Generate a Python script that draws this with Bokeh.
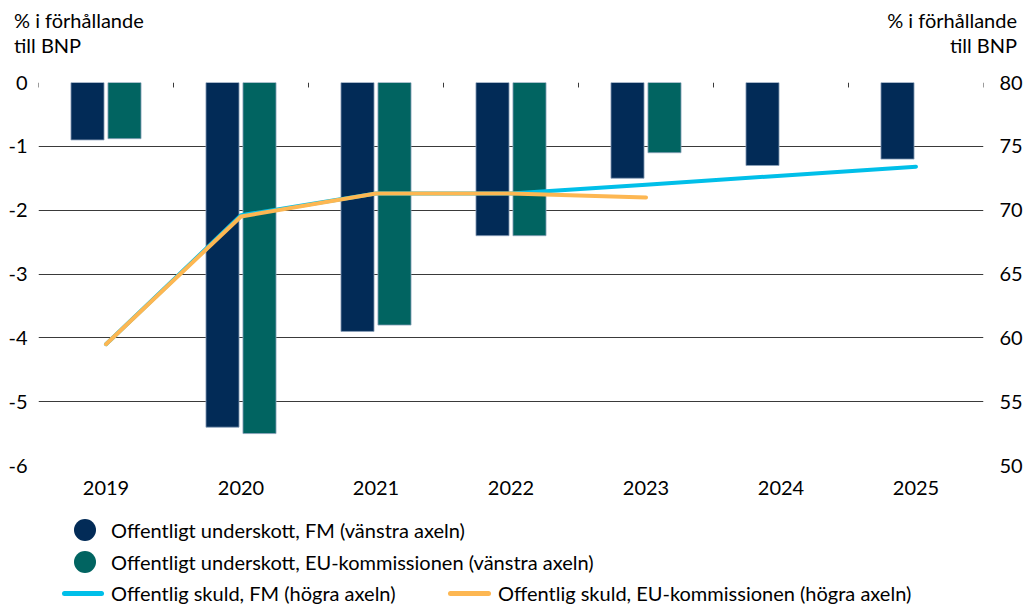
from bokeh.plotting import figure
from bokeh.layouts import column
from bokeh.models import (Range1d, FactorRange, LinearAxis, FixedTicker, Div,
                          ColumnDataSource)
from bokeh.transform import dodge
from bokeh.embed import file_html
from bokeh.resources import INLINE

# ---- data ----
years = ["2019", "2020", "2021", "2022", "2023", "2024", "2025"]
deficit_fm = [-0.9, -5.4, -3.9, -2.4, -1.5, -1.3, -1.2]
years_eu = ["2019", "2020", "2021", "2022", "2023"]
deficit_eu = [-0.88, -5.5, -3.8, -2.4, -1.1]
debt_fm = [59.5, 69.6, 71.3, 71.3, 72.0, 72.7, 73.4]
debt_eu = [59.5, 69.5, 71.3, 71.3, 71.0]
left_ticks = [-6, -5, -4, -3, -2, -1, 0]
right_ticks = [50, 55, 60, 65, 70, 75, 80]
axis_title = ["% i förhållande", "till BNP"]
legend_labels = [
    "Offentligt underskott, FM (vänstra axeln)",
    "Offentligt underskott, EU-kommissionen (vänstra axeln)",
    "Offentlig skuld, FM (högra axeln)",
    "Offentlig skuld, EU-kommissionen (högra axeln)",
]

NAVY = "#022b57"
TEAL = "#016461"
BLUE = "#00bfe9"
ORANGE = "#fdb752"
GRID = "#3a3a3a"
FONT = "Lato"
FS = "20px"
W = 1026

# ---- titles above the plot ----
title_html = "<br>".join(axis_title)
titles = Div(width=W, height=60, margin=0, text=(
    f'<div style="position:relative;width:{W}px;height:60px;font-family:{FONT};'
    f'font-size:20px;line-height:25px;color:black">'
    f'<div style="position:absolute;left:14px;top:8px;white-space:nowrap">{title_html}</div>'
    f'<div style="position:absolute;right:9px;top:8px;text-align:right;white-space:nowrap">{title_html}</div>'
    '</div>'))

# ---- main figure ----
p = figure(width=W, height=450,
           x_range=FactorRange(*years, range_padding=0),
           y_range=Range1d(left_ticks[0], left_ticks[-1]),
           output_backend="svg", toolbar_location=None,
           min_border_left=38, min_border_right=43,
           min_border_top=22, min_border_bottom=45, margin=0)
p.outline_line_color = None

p.xgrid.visible = False
p.ygrid.ticker = FixedTicker(ticks=left_ticks)
p.ygrid.grid_line_color = GRID
p.ygrid.grid_line_width = 1

# left axis
p.yaxis.ticker = FixedTicker(ticks=left_ticks)
p.yaxis.major_label_overrides = {t: str(t) for t in left_ticks}
p.yaxis.axis_line_color = None
p.yaxis.major_tick_line_color = None
p.yaxis.minor_tick_line_color = None
p.yaxis.major_tick_out = 0
p.yaxis.major_tick_in = 0
p.yaxis.major_label_text_font = FONT
p.yaxis.major_label_text_font_size = FS
p.yaxis.major_label_text_color = "black"
p.yaxis.major_label_standoff = 11

# bottom categorical axis (labels only)
p.xaxis.axis_line_color = None
p.xaxis.major_tick_line_color = None
p.xaxis.major_tick_out = 0
p.xaxis.major_tick_in = 0
p.xaxis.major_label_text_font = FONT
p.xaxis.major_label_text_font_size = FS
p.xaxis.major_label_text_color = "black"
p.xaxis.major_label_standoff = 15

# right axis
p.extra_y_ranges = {"debt": Range1d(right_ticks[0], right_ticks[-1])}
right = LinearAxis(y_range_name="debt", ticker=FixedTicker(ticks=right_ticks),
                   axis_line_color=None, major_tick_line_color=None,
                   minor_tick_line_color=None, major_tick_out=0, major_tick_in=0,
                   major_label_text_font=FONT, major_label_text_font_size=FS,
                   major_label_text_color="black", major_label_standoff=16)
p.add_layout(right, "right")

# small category-boundary ticks hanging from the zero line
tick_len = 0.078
edge_src = ColumnDataSource(dict(year=years))
p.segment(x0=dodge("year", -0.5, range=p.x_range), x1=dodge("year", -0.5, range=p.x_range),
          y0=0, y1=-tick_len, source=edge_src, line_color=GRID, line_width=1)
last_src = ColumnDataSource(dict(year=years[-1:]))
p.segment(x0=dodge("year", 0.5, range=p.x_range), x1=dodge("year", 0.5, range=p.x_range),
          y0=0, y1=-tick_len, source=last_src, line_color=GRID, line_width=1)

# bars
src_fm = ColumnDataSource(dict(year=years, val=deficit_fm))
src_eu = ColumnDataSource(dict(year=years_eu, val=deficit_eu))
p.vbar(x=dodge("year", -0.137, range=p.x_range), top="val", bottom=0, width=0.245,
       source=src_fm, fill_color=NAVY, line_color="#8da2bb", line_width=0.8)
p.vbar(x=dodge("year", 0.137, range=p.x_range), top="val", bottom=0, width=0.245,
       source=src_eu, fill_color=TEAL, line_color="#8da2bb", line_width=0.8)

# lines
p.line(x=years, y=debt_fm, y_range_name="debt", line_color=BLUE, line_width=4,
       line_cap="round", line_join="round")
p.line(x=years_eu, y=debt_eu, y_range_name="debt", line_color=ORANGE, line_width=4,
       line_cap="round", line_join="round")

# ---- legend below the plot ----
def abs_box(left, top, w, h, color, radius):
    return (f'<div style="position:absolute;left:{left}px;top:{top}px;width:{w}px;'
            f'height:{h}px;border-radius:{radius}px;background:{color}"></div>')

def abs_text(left, center, t):
    return (f'<div style="position:absolute;left:{left}px;top:{center - 16}px;'
            f'line-height:32px;white-space:nowrap">{t}</div>')

rows = [20, 52, 83]
legend_html = (
    f'<div style="position:relative;width:{W}px;height:94px;overflow:hidden;'
    f'font-family:{FONT};font-size:20px;color:black">'
    + abs_box(74, rows[0] - 11, 22, 22, NAVY, 11) + abs_text(111, rows[0], legend_labels[0])
    + abs_box(74, rows[1] - 11, 22, 22, TEAL, 11) + abs_text(111, rows[1], legend_labels[1])
    + abs_box(62, rows[2] - 2.5, 42, 5, BLUE, 3) + abs_text(111, rows[2], legend_labels[2])
    + abs_box(448, rows[2] - 2.5, 43, 5, ORANGE, 3) + abs_text(498, rows[2], legend_labels[3])
    + '</div>')
legend = Div(width=W, height=94, margin=0, text=legend_html)

layout = column(titles, p, legend, spacing=0, margin=0)
open("out.html", "w").write(file_html(layout, INLINE))
